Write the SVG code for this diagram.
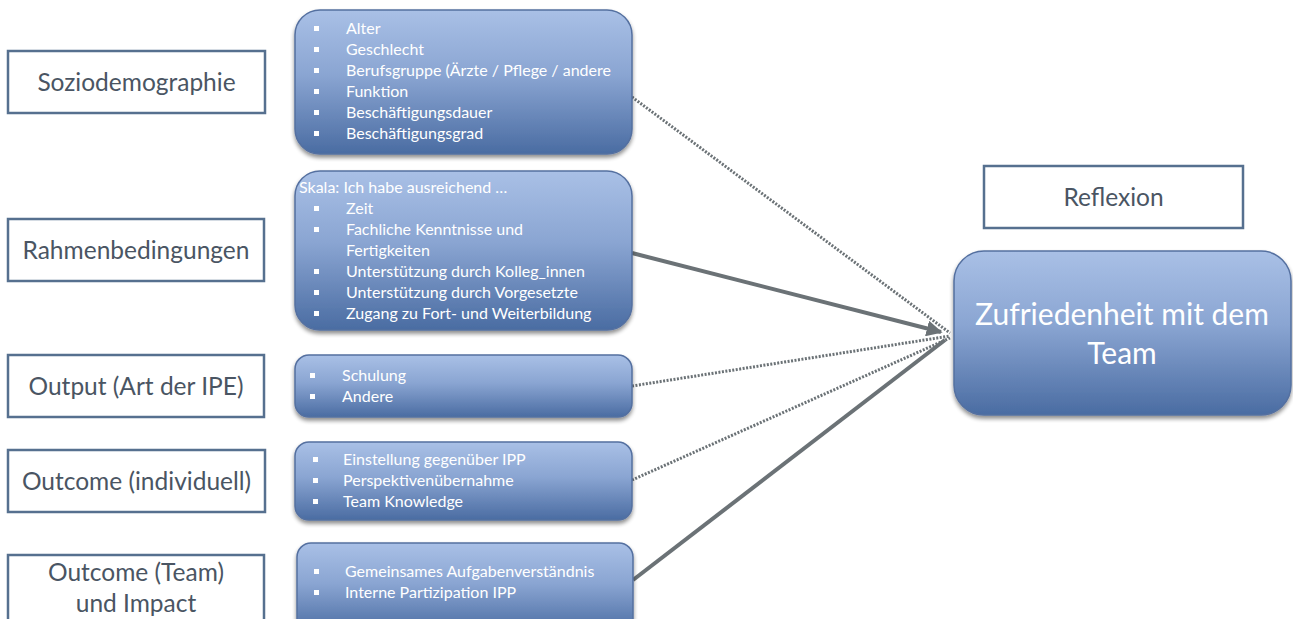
<svg xmlns="http://www.w3.org/2000/svg" width="1293" height="619" viewBox="0 0 1293 619">
<defs>
<linearGradient id="g" x1="0" y1="0" x2="0" y2="1">
<stop offset="0" stop-color="#a9c0e6"/>
<stop offset="0.45" stop-color="#8aa5d2"/>
<stop offset="1" stop-color="#4a6ca2"/>
</linearGradient>
<filter id="sh" x="-5%" y="-5%" width="110%" height="120%">
<feGaussianBlur in="SourceAlpha" stdDeviation="2"/>
<feOffset dx="0" dy="3" result="b"/>
<feComponentTransfer><feFuncA type="linear" slope="0.45"/></feComponentTransfer>
<feMerge><feMergeNode/><feMergeNode in="SourceGraphic"/></feMerge>
</filter>
<marker id="ah" viewBox="0 0 10 10" refX="9" refY="5" markerWidth="4" markerHeight="4" orient="auto" markerUnits="strokeWidth">
<path d="M0,0 L10,5 L0,10 z" fill="#6b7276"/>
</marker>
</defs>
<style>
.lab{fill:#fff;stroke:#56708f;stroke-width:2.5}
.lt{font-family:Lato,"Liberation Sans",sans-serif;font-size:24.5px;fill:#4a5563;text-anchor:middle}
.gb{fill:url(#g);stroke:#5470a0;stroke-width:1.5;filter:url(#sh)}
.bt{font-family:Lato,"Liberation Sans",sans-serif;font-size:16px;fill:#fff}
.big{font-family:Lato,"Liberation Sans",sans-serif;font-size:30px;fill:#fff;text-anchor:middle}
.sol{stroke:#6b7276;stroke-width:4;fill:none}
.dot{stroke:#6b7276;stroke-width:3;fill:none;stroke-dasharray:2 1.5}
.sq{fill:#fff}
</style>
<rect width="1293" height="619" fill="#fff"/>

<g id="connectors">
<line class="dot" x1="632" y1="97" x2="950" y2="333"/>
<line class="dot" x1="632" y1="386" x2="950" y2="336"/>
<line class="dot" x1="632" y1="480" x2="950" y2="338"/>
<line class="sol" x1="633" y1="580" x2="945" y2="340"/>
<line class="sol" x1="632" y1="253" x2="941" y2="332" marker-end="url(#ah)"/>
</g>

<g id="soziodemographie">
<rect class="lab" x="8" y="51" width="257" height="62"/>
<text class="lt" x="136.5" y="91">Soziodemographie</text>
</g>
<g id="rahmenbedingungen">
<rect class="lab" x="8" y="219" width="256" height="62"/>
<text class="lt" x="136" y="259">Rahmenbedingungen</text>
</g>
<g id="output">
<rect class="lab" x="8" y="355" width="256" height="62"/>
<text class="lt" x="136" y="395">Output (Art der IPE)</text>
</g>
<g id="outcome-individuell">
<rect class="lab" x="8" y="450" width="257" height="62"/>
<text class="lt" x="136.5" y="490">Outcome (individuell)</text>
</g>
<g id="outcome-team">
<rect class="lab" x="8" y="555" width="256" height="70"/>
<text class="lt" x="136" y="581">Outcome (Team)</text>
<text class="lt" x="136" y="612">und Impact</text>
</g>
<g id="reflexion">
<rect class="lab" x="984" y="166" width="259" height="62"/>
<text class="lt" x="1113.5" y="206">Reflexion</text>
</g>

<g id="box-sozio">
<rect class="gb" x="295" y="10" width="337" height="144" rx="25"/>
<g class="sq"><rect x="314" y="26" width="5" height="5"/><rect x="314" y="47" width="5" height="5"/><rect x="314" y="68" width="5" height="5"/><rect x="314" y="89" width="5" height="5"/><rect x="314" y="110" width="5" height="5"/><rect x="314" y="131" width="5" height="5"/></g>
<text class="bt" x="346" y="34">Alter</text>
<text class="bt" x="346" y="55">Geschlecht</text>
<text class="bt" x="346" y="76">Berufsgruppe (Ärzte / Pflege / andere</text>
<text class="bt" x="346" y="97">Funktion</text>
<text class="bt" x="346" y="118">Beschäftigungsdauer</text>
<text class="bt" x="346" y="139">Beschäftigungsgrad</text>
</g>

<g id="box-rahmen">
<rect class="gb" x="295" y="171" width="337" height="159" rx="25"/>
<text class="bt" x="299" y="193">Skala: Ich habe ausreichend …</text>
<g class="sq"><rect x="314" y="206" width="5" height="5"/><rect x="314" y="227" width="5" height="5"/><rect x="314" y="269" width="5" height="5"/><rect x="314" y="290" width="5" height="5"/><rect x="314" y="311" width="5" height="5"/></g>
<text class="bt" x="346" y="214">Zeit</text>
<text class="bt" x="346" y="235">Fachliche Kenntnisse und</text>
<text class="bt" x="346" y="256">Fertigkeiten</text>
<text class="bt" x="346" y="277">Unterstützung durch Kolleg_innen</text>
<text class="bt" x="346" y="298">Unterstützung durch Vorgesetzte</text>
<text class="bt" x="346" y="319">Zugang zu Fort- und Weiterbildung</text>
</g>

<g id="box-output">
<rect class="gb" x="295" y="355" width="337" height="62" rx="14"/>
<g class="sq"><rect x="310" y="373" width="5" height="5"/><rect x="310" y="394" width="5" height="5"/></g>
<text class="bt" x="342" y="381">Schulung</text>
<text class="bt" x="342" y="402">Andere</text>
</g>

<g id="box-outcome-ind">
<rect class="gb" x="295" y="442" width="337" height="78" rx="14"/>
<g class="sq"><rect x="313" y="457" width="5" height="5"/><rect x="313" y="478" width="5" height="5"/><rect x="313" y="499" width="5" height="5"/></g>
<text class="bt" x="343" y="465">Einstellung gegenüber IPP</text>
<text class="bt" x="343" y="486">Perspektivenübernahme</text>
<text class="bt" x="343" y="507">Team Knowledge</text>
</g>

<g id="box-outcome-team">
<rect class="gb" x="297" y="543" width="336" height="90" rx="14"/>
<g class="sq"><rect x="314" y="569" width="5" height="5"/><rect x="314" y="590" width="5" height="5"/></g>
<text class="bt" x="345" y="577">Gemeinsames Aufgabenverständnis</text>
<text class="bt" x="345" y="598">Interne Partizipation IPP</text>
</g>

<g id="zufriedenheit">
<rect class="gb" x="954" y="251" width="337" height="164" rx="30"/>
<text class="big" x="1122" y="325">Zufriedenheit mit dem</text>
<text class="big" x="1122" y="364">Team</text>
</g>
</svg>
